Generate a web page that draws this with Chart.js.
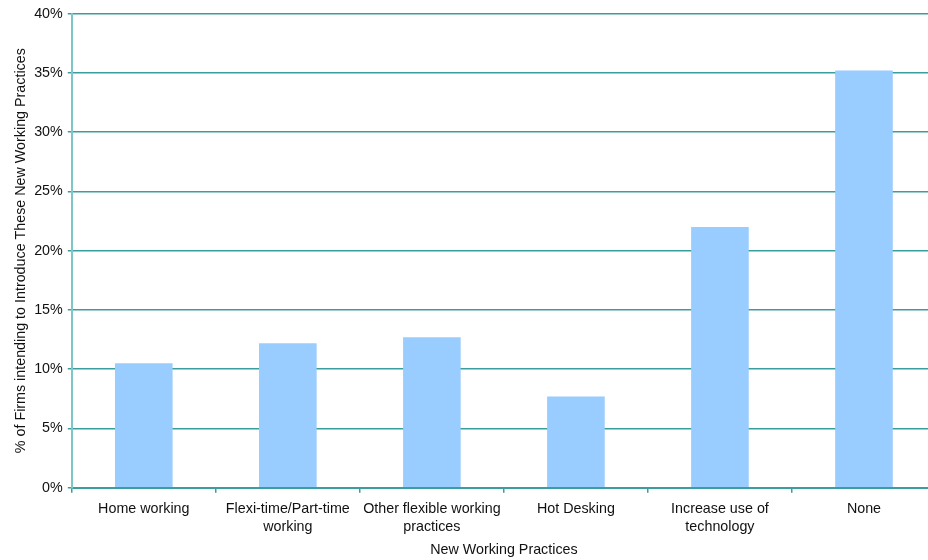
<!DOCTYPE html>
<html>
<head>
<meta charset="utf-8">
<script src="https://cdn.jsdelivr.net/npm/chart.js@4/dist/chart.umd.min.js"></script>
<style>
  html, body { margin: 0; padding: 0; background: #fff; overflow: hidden; }
  #wrap { width: 940px; height: 560px; position: relative; }
</style>
</head>
<body>
<div id="wrap"><canvas id="chart"></canvas></div>
<script>
// Chart data
const categories = [
  "Home working",
  ["Flexi-time/Part-time", "working"],
  ["Other flexible working", "practices"],
  "Hot Desking",
  ["Increase use of", "technology"],
  "None",
]
const shares = [10.5, 12.2, 12.7, 7.7, 22.0, 35.2]

const gridColor = "#3b9e9e"
const axisColor = "#7fc6c6"
const font = { family: "'Liberation Sans', Arial, sans-serif", size: 14.3 }

const ctx = document.getElementById("chart").getContext("2d")

new Chart(ctx, {
  type: "bar",
  data: {
    labels: categories,
    datasets: [
      {
        data: shares,
        backgroundColor: "#99ccff",
        borderWidth: 0,
        barPercentage: 0.4,
        categoryPercentage: 1,
      },
    ],
  },
  options: {
    responsive: true,
    maintainAspectRatio: false,
    animation: false,
    layout: { padding: { top: 6, right: 4, bottom: 1, left: 12 } },
    plugins: {
      legend: { display: false },
      tooltip: { enabled: false },
    },
    scales: {
      x: {
        grid: {
          offset: true,
          drawOnChartArea: false,
          drawTicks: true,
          tickLength: 5,
          color: gridColor,
          lineWidth: 1.5,
        },
        border: { color: gridColor, width: 2 },
        ticks: {
          color: "#111",
          font: { ...font, lineHeight: 1.26 },
          maxRotation: 0,
          autoSkip: false,
          padding: 7,
        },
        title: {
          display: true,
          text: "New Working Practices",
          color: "#111",
          font: font,
          padding: { top: -1, bottom: 0 },
        },
      },
      y: {
        min: 0,
        max: 40,
        ticks: {
          stepSize: 5,
          color: "#111",
          font: font,
          padding: 5,
          callback: (v) => v + "%",
        },
        grid: {
          color: gridColor,
          lineWidth: 1.5,
          tickLength: 4,
        },
        border: { color: axisColor, width: 2 },
        title: {
          display: true,
          text: "% of Firms intending to Introduce These New Working Practices",
          color: "#111",
          font: font,
          padding: { top: 0, bottom: 0 },
        },
      },
    },
  },
})
</script>
</body>
</html>
